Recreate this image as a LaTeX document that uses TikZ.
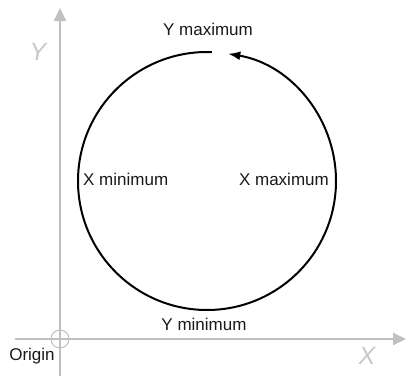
\documentclass[tikz,border=0pt]{standalone}
\usepackage{fontspec}
\setmainfont{Liberation Sans}
\usetikzlibrary{arrows.meta}
\definecolor{axisgray}{RGB}{192,192,192}
\definecolor{labelgray}{RGB}{200,200,200}
\definecolor{textdark}{RGB}{25,25,25}
\begin{document}
\begin{tikzpicture}[x=1pt,y=1pt,
  axis/.style={draw=axisgray,line width=2pt,-{Triangle[length=13pt,width=12pt]}},
  lbl/.style={font=\fontsize{17}{20}\selectfont,text=textdark,inner sep=0pt},
  axlbl/.style={font=\fontsize{25}{28}\selectfont\itshape,text=labelgray,inner sep=0pt}]
\useasboundingbox (0,0) rectangle (406,376);
% axes
\coordinate (o) at (60,37);
\coordinate (xs) at (15,37);
\coordinate (xe) at (406,37);
\coordinate (ys) at (60,0);
\coordinate (ye) at (60,368);
\draw[axis] (xs) -- (xe);
\draw[axis] (ys) -- (ye);
\draw[axisgray,line width=1pt] (o) circle[radius=9];
% circle path
\coordinate (c) at (207,195);
\draw[black,line width=2pt,-{Latex[length=12pt,width=9pt]}] ([shift={(87.8:129)}]c) arc[start angle=87.8,end angle=440.5,radius=129];
% labels
\node[lbl] (ymax) at (208,347) {Y maximum};
\node[lbl,anchor=west] (xmin) at (83,197) {X minimum};
\node[lbl,anchor=east] (xmax) at (329,197) {X maximum};
\node[lbl] (ymin) at (204,52) {Y minimum};
\node[lbl] (orig) at (32,20) {Origin};
\node[axlbl] (xl) at (367,20) {X};
\node[axlbl] (yl) at (38,324) {Y};
\end{tikzpicture}
\end{document}
